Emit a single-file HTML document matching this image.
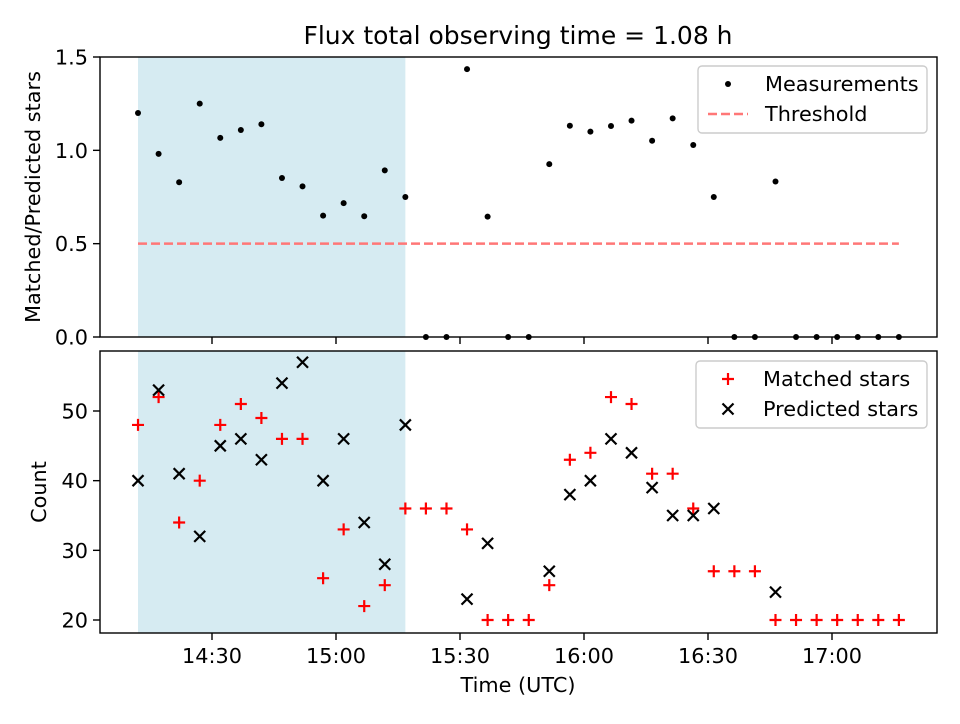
<!DOCTYPE html>
<html><head><meta charset="utf-8"><style>
body{margin:0;background:#fff;font-family:"DejaVu Sans","Liberation Sans",sans-serif}
svg text{font-family:"DejaVu Sans","Liberation Sans",sans-serif;fill:#000}
</style></head><body>
<svg id="c" width="960" height="720" xmlns="http://www.w3.org/2000/svg"></svg>
<script>
// minutes after 14:00
const times=[12.1,17.08,22.05,27.03,32.0,36.98,41.95,46.93,51.9,56.88,61.85,66.83,71.8,76.78,81.75,86.73,91.7,96.68,101.65,106.63,111.6,116.58,121.55,126.53,131.5,136.48,141.45,146.43,151.4,156.38,161.35,166.33,171.3,176.28,181.25,186.23,191.2,196.18];
const matched=[48,52,34,40,48,51,49,46,46,26,33,22,25,36,36,36,33,20,20,20,25,43,44,52,51,41,41,36,27,27,27,20,20,20,20,20,20,20];
const predicted=[40,53,41,32,45,46,43,54,57,40,46,34,28,48,null,null,23,31,null,null,27,38,40,46,44,39,35,35,36,null,null,24,null,null,null,null,null,null];
const threshold=0.5;
const shadeRange=[12.1,76.78];
const xTickVals=[30,60,90,120,150,180];
const xTickLabels=["14:30","15:00","15:30","16:00","16:30","17:00"];
const topTicks=[0,0.5,1.0,1.5];
const topTickLabels=["0.0","0.5","1.0","1.5"];
const botTicks=[20,30,40,50];

const NS="http://www.w3.org/2000/svg";
const svg=document.getElementById('c');
function el(t,a,p){const e=document.createElementNS(NS,t);for(const k in a)e.setAttribute(k,a[k]);(p||svg).appendChild(e);return e;}
const L=100,R=937;
const X=m=>212+(m-30)*(620/150);
const TT=57,TB=337, BT=351,BB=633;
const YT=v=>337-v*(280/1.5);
const YB=v=>620-(v-20)*(209/30);
const FS=20.8;

for(const [t,b] of [[TT,TB],[BT,BB]]){
 const r=el('rect',{x:X(shadeRange[0]),y:t,width:X(shadeRange[1])-X(shadeRange[0]),height:b-t,fill:'#add8e6','fill-opacity':0.5});
 
 
}
const th=el('line',{x1:X(times[0]),x2:X(times[times.length-1]),y1:YT(threshold),y2:YT(threshold),stroke:'#f77',"stroke-width":2.5,"stroke-dasharray":"9,4"});


times.forEach((t,i)=>{
 const p=predicted[i];const v=p?matched[i]/p:0;
 const c=el('circle',{cx:X(t),cy:YT(v),r:3,fill:'#000'});
 
 
});
times.forEach((t,i)=>{
 const x=X(t),y=YB(matched[i]);
 const g=el('path',{d:`M${x-6},${y}H${x+6}M${x},${y-6}V${y+6}`,stroke:'red','stroke-width':2.2});
 
 
 if(predicted[i]!=null){const yp=YB(predicted[i]);
  const k=el('path',{d:`M${x-5.5},${yp-5.5}L${x+5.5},${yp+5.5}M${x-5.5},${yp+5.5}L${x+5.5},${yp-5.5}`,stroke:'#000','stroke-width':2.2});
  
  }
});
for(const [t,b,n] of [[TT,TB,'top-axes-frame'],[BT,BB,'bottom-axes-frame']]){
 const r=el('rect',{x:L,y:t,width:R-L,height:b-t,fill:'none',stroke:'#000','stroke-width':1.4});
 
 
}
xTickVals.forEach((v,i)=>{
 const x=X(v);
 el('line',{x1:x,x2:x,y1:TB,y2:TB+7,stroke:'#000','stroke-width':1.4});
 el('line',{x1:x,x2:x,y1:BB,y2:BB+7,stroke:'#000','stroke-width':1.4});
 const tx=el('text',{x:x,y:BB+30,'text-anchor':'middle','font-size':FS});
 tx.textContent=xTickLabels[i];
 
 
});
topTicks.forEach((v,i)=>{
 const y=YT(v);el('line',{x1:L-7,x2:L,y1:y,y2:y,stroke:'#000','stroke-width':1.4});
 const tx=el('text',{x:L-12,y:y+7.5,'text-anchor':'end','font-size':FS});tx.textContent=topTickLabels[i];
 
 
});
botTicks.forEach(v=>{
 const y=YB(v);el('line',{x1:L-7,x2:L,y1:y,y2:y,stroke:'#000','stroke-width':1.4});
 const tx=el('text',{x:L-12,y:y+7.5,'text-anchor':'end','font-size':FS});tx.textContent=v;
 
 
});
function txt(s,a,n){const t=el('text',a);t.textContent=s;return t;}
txt('Flux total observing time = 1.08 h',{x:518,y:44,'text-anchor':'middle','font-size':25},'chart-title');
txt('Time (UTC)',{x:518,y:692,'text-anchor':'middle','font-size':FS},'x-axis-title');
txt('Matched/Predicted stars',{x:0,y:0,transform:'translate(40,197) rotate(-90)','text-anchor':'middle','font-size':FS},'top-y-axis-title');
txt('Count',{x:0,y:0,transform:'translate(46,492) rotate(-90)','text-anchor':'middle','font-size':FS},'bottom-y-axis-title');
const lg1=el('g',{});
el('rect',{x:698,y:66,width:229,height:67,rx:4,fill:'#fff','fill-opacity':0.8,stroke:'#ccc','stroke-width':1.4},lg1);
el('circle',{cx:728,cy:84,r:3,fill:'#000'},lg1);
el('line',{x1:708,x2:748,y1:114,y2:114,stroke:'#f77','stroke-width':2.5,'stroke-dasharray':'9,4'},lg1);
const a=el('text',{x:765,y:91,'font-size':FS},lg1);a.textContent='Measurements';
const b=el('text',{x:765,y:121,'font-size':FS},lg1);b.textContent='Threshold';
const lg2=el('g',{});
el('rect',{x:696,y:361,width:231,height:67,rx:4,fill:'#fff','fill-opacity':0.8,stroke:'#ccc','stroke-width':1.4},lg2);
el('path',{d:'M722,379H734M728,373V385',stroke:'red','stroke-width':2.2},lg2);
el('path',{d:'M722.5,403.5L733.5,414.5M722.5,414.5L733.5,403.5',stroke:'#000','stroke-width':2.2},lg2);
const c1=el('text',{x:763,y:386,'font-size':FS},lg2);c1.textContent='Matched stars';
const c2=el('text',{x:763,y:416,'font-size':FS},lg2);c2.textContent='Predicted stars';
</script>
</body></html>
